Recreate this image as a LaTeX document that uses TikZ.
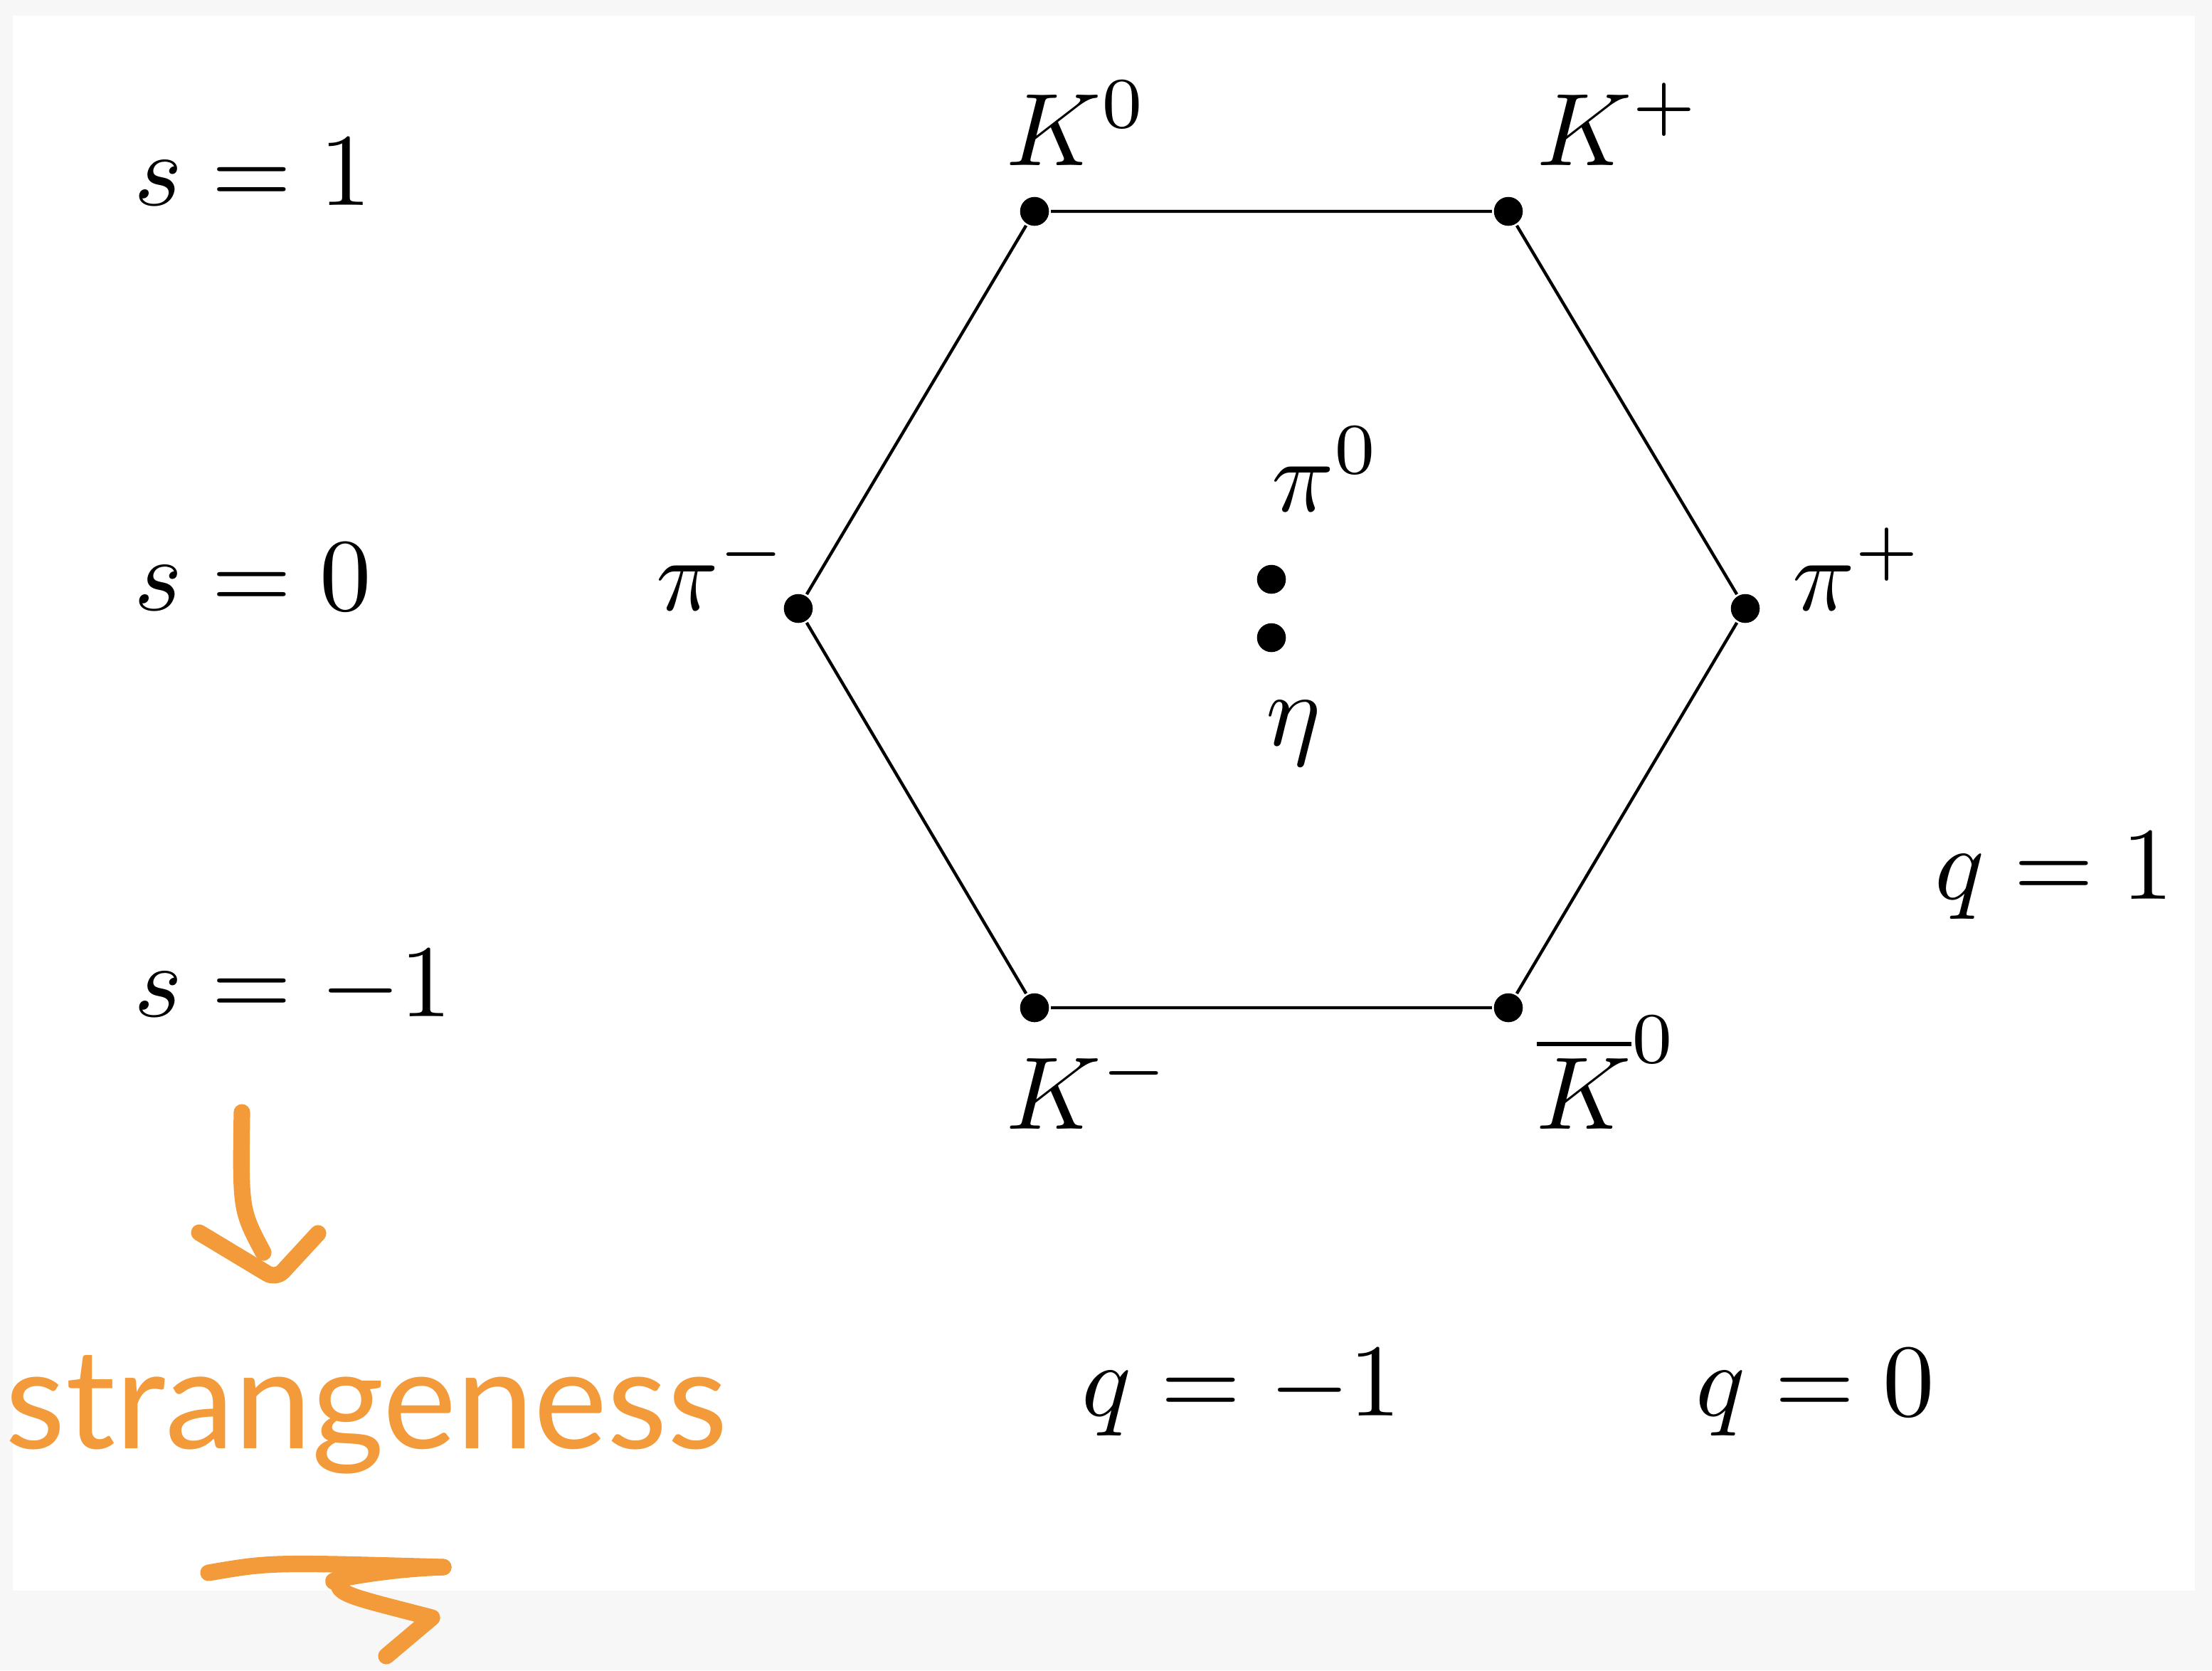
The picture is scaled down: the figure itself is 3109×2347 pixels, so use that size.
\documentclass[tikz,border=0pt]{standalone}
\usepackage{fontspec}
\newfontfamily\handfont{Lato}
\definecolor{hand}{HTML}{F39A3B}
\definecolor{bgedge}{HTML}{F8F7F7}
\begin{document}
\begin{tikzpicture}[x=0.069pt,y=-0.069pt,
  dot/.style={circle,fill=black,inner sep=0pt,minimum size=2.8pt},
  lab/.style={anchor=base west,inner sep=0pt},
  hexline/.style={line width=0.3pt},
  handline/.style={draw=hand,line width=1.6pt,line cap=round,line join=round}]
\useasboundingbox (0,0) rectangle (3109,2347);
\fill[bgedge] (0,0) rectangle (3109,2347);
\fill[white] (18,22) rectangle (3085,2235);
% vertices
\node[dot] (K0) at (1454,297) {};
\node[dot] (Kp) at (2120,297) {};
\node[dot] (pip) at (2453,855) {};
\node[dot] (K0b) at (2120,1416) {};
\node[dot] (Km) at (1454,1416) {};
\node[dot] (pim) at (1122,855) {};
\node[dot] (pi0) at (1787,814) {};
\node[dot] (eta) at (1787,896) {};
\draw[hexline] (K0) -- (Kp) -- (pip) -- (K0b) -- (Km) -- (pim) -- (K0);
% particle labels
\node[lab] (lK0) at (1412,232) {$K^0$};
\node[lab] (lKp) at (2158,232) {$K^+$};
\node[lab] (lpim) at (920,857) {$\pi^-$};
\node[lab] (lpip) at (2517,857) {$\pi^+$};
\node[lab] (lpi0) at (1785,718) {$\pi^0$};
\node[lab] (leta) at (1777,1047) {$\eta$};
\node[lab] (lKm) at (1412,1586) {$K^-$};
\node[lab] (lK0b) at (2157,1586) {$\overline{K}^0$};
% quantum numbers
\node[lab] (s1) at (186,288) {$s=1$};
\node[lab] (s0) at (186,857) {$s=0$};
\node[lab] (sm1) at (186,1428) {$s=-1$};
\node[lab] (q1) at (2717,1263) {$q=1$};
\node[lab] (qm1) at (1518,1989) {$q=-1$};
\node[lab] (q0) at (2381,1989) {$q=0$};
% handwritten note
\coordinate (ar0) at (340,1563);
\coordinate (ar1) at (370,1760);
\coordinate (ah1) at (280,1732);
\coordinate (ah2) at (388,1797);
\coordinate (ah3) at (447,1733);
\draw[handline] (ar0) .. controls (338,1700) .. (ar1);
\draw[handline,rounded corners=1pt] (ah1) -- (ah2) -- (ah3);
\node[anchor=base,inner sep=0pt,text=hand] (strange) at (515,2035) {\resizebox{70pt}{!}{\handfont strangeness}};
\coordinate (u0) at (293,2210);
\coordinate (u1) at (623,2202);
\coordinate (u2) at (477,2222);
\coordinate (u3) at (607,2273);
\coordinate (u4) at (543,2327);
\draw[handline] (u0) .. controls (380,2195) .. (u1);
\draw[handline] (u1) .. controls (530,2205) and (440,2225) .. (u2) .. controls (470,2240) and (500,2245) .. (u3) -- (u4);
\end{tikzpicture}
\end{document}
